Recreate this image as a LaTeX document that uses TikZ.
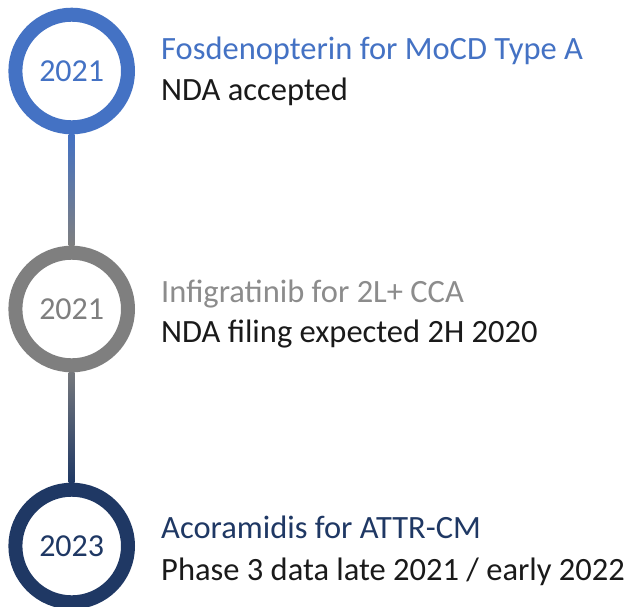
\documentclass[tikz,border=0pt]{standalone}
\usepackage{fontspec}
\setmainfont{Carlito}
\usetikzlibrary{calc}

\definecolor{mileblue}{HTML}{4472C4}
\definecolor{milegray}{HTML}{7F7F7F}
\definecolor{milenavy}{HTML}{1F3864}
\definecolor{subgray}{HTML}{8C8C8C}
\definecolor{bodytext}{HTML}{1A1A1A}

\tikzset{
  yearring/.style={circle, draw=#1, line width=14pt, minimum size=112.6pt, inner sep=0pt,
    text=#1, font=\fontsize{32}{32}\selectfont},
  headline/.style={anchor=base west, inner sep=0pt, text=#1, font=\fontsize{32.5}{38}\selectfont},
  detail/.style={anchor=base west, inner sep=0pt, text=bodytext, font=\fontsize{32.5}{38}\selectfont},
}

\begin{document}
\begin{tikzpicture}[x=1pt,y=-1pt]
\useasboundingbox[fill=white] (0,0) rectangle (634,606);

% milestones
\node[yearring=mileblue] (y1) at (71.7,71) {2021};
\node[yearring=milegray] (y2) at (71.7,309) {2021};
\node[yearring=milenavy] (y3) at (71.7,546) {2023};

% links between the rings
\shade[top color=mileblue, bottom color=milegray]
  ($(y1.south)+(-3,0)$) rectangle ($(y2.north)+(3,0)$);
\shade[top color=milegray!90!milenavy, bottom color=milenavy]
  ($(y2.south)+(-3,0)$) rectangle ($(y3.north)+(3,0)$);

% texts
\node[headline=mileblue] (h1) at (161,59) {Fosdenopterin for MoCD Type A};
\node[detail] (d1) at (161,100) {NDA accepted};

\node[headline=subgray] (h2) at (161,302) {Infigratinib for 2L+ CCA};
\node[detail] (d2) at (161,342) {NDA filing expected 2H 2020};

\node[headline=milenavy] (h3) at (161,538) {Acoramidis for ATTR-CM};
\node[detail] (d3) at (161,580) {Phase 3 data late 2021 / early 2022};
\end{tikzpicture}
\end{document}
